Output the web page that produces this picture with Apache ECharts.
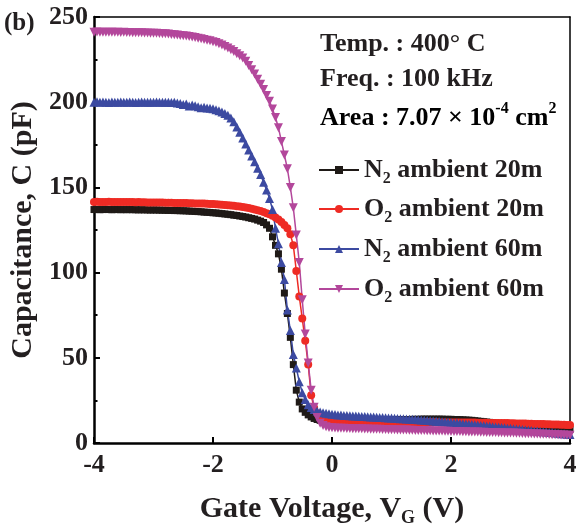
<!DOCTYPE html>
<html>
<head>
<meta charset="utf-8">
<script src="https://cdn.jsdelivr.net/npm/echarts@6/dist/echarts.min.js"></script>
<style>
html, body { margin: 0; padding: 0; background: #fff; }
#chart { width: 576px; height: 527px; }
</style>
</head>
<body>
<div id="chart"></div>
<script>
// gate voltage sweep (V)
var gateV = [
    -4, -3.95, -3.9, -3.85, -3.8, -3.75, -3.7, -3.65, -3.6, -3.55,
    -3.5, -3.45, -3.4, -3.35, -3.3, -3.25, -3.2, -3.15, -3.1, -3.05,
    -3, -2.95, -2.9, -2.85, -2.8, -2.75, -2.7, -2.65, -2.6, -2.55,
    -2.5, -2.45, -2.4, -2.35, -2.3, -2.25, -2.2, -2.15, -2.1, -2.05,
    -2, -1.95, -1.9, -1.85, -1.8, -1.75, -1.7, -1.65, -1.6, -1.55,
    -1.5, -1.45, -1.4, -1.35, -1.3, -1.25, -1.2, -1.15, -1.1, -1.05,
    -1, -0.95, -0.9, -0.85, -0.8, -0.75, -0.7, -0.65, -0.6, -0.55,
    -0.5, -0.45, -0.4, -0.35, -0.3, -0.25, -0.2, -0.15, -0.1, -0.05,
    0, 0.05, 0.1, 0.15, 0.2, 0.25, 0.3, 0.35, 0.4, 0.45,
    0.5, 0.55, 0.6, 0.65, 0.7, 0.75, 0.8, 0.85, 0.9, 0.95,
    1, 1.05, 1.1, 1.15, 1.2, 1.25, 1.3, 1.35, 1.4, 1.45,
    1.5, 1.55, 1.6, 1.65, 1.7, 1.75, 1.8, 1.85, 1.9, 1.95,
    2, 2.05, 2.1, 2.15, 2.2, 2.25, 2.3, 2.35, 2.4, 2.45,
    2.5, 2.55, 2.6, 2.65, 2.7, 2.75, 2.8, 2.85, 2.9, 2.95,
    3, 3.05, 3.1, 3.15, 3.2, 3.25, 3.3, 3.35, 3.4, 3.45,
    3.5, 3.55, 3.6, 3.65, 3.7, 3.75, 3.8, 3.85, 3.9, 3.95,
    4
];

// capacitance (pF)
var n2Amb20 = [
    137, 137.1, 136.9, 137, 137.1, 137, 136.9, 137, 137, 136.9,
    137, 136.9, 137, 136.9, 136.9, 136.8, 136.9, 136.8, 136.8, 136.7,
    136.8, 136.7, 136.7, 136.6, 136.6, 136.5, 136.5, 136.4, 136.4, 136.3,
    136.3, 136.2, 136.1, 136, 135.9, 135.8, 135.7, 135.5, 135.4, 135.3,
    135.1, 135, 134.8, 134.6, 134.4, 134.2, 134, 133.7, 133.5, 133.2,
    132.9, 132.6, 132.2, 131.8, 131.4, 130.8, 130.2, 129.4, 128, 126,
    121, 116, 111, 102, 88, 76, 62, 46, 31, 24,
    20, 18, 16.5, 15.3, 14.4, 13.8, 13.3, 13, 12.8, 12.7,
    12.6, 12.6, 12.7, 12.7, 12.8, 12.8, 12.9, 12.9, 13, 13,
    13.1, 13.1, 13.2, 13.2, 13.3, 13.3, 13.4, 13.4, 13.5, 13.5,
    13.6, 13.6, 13.7, 13.7, 13.8, 13.8, 13.8, 13.9, 13.9, 13.9,
    14, 14, 14, 14, 14, 14, 14, 14, 13.9, 13.9,
    13.9, 13.8, 13.8, 13.7, 13.6, 13.5, 13.4, 13.3, 13.1, 12.9,
    12.7, 12.5, 12.3, 12.1, 11.9, 11.7, 11.5, 11.3, 11.1, 10.9,
    10.7, 10.5, 10.3, 10.1, 9.9, 9.7, 9.6, 9.4, 9.2, 9.1,
    8.9, 8.8, 8.7, 8.6, 8.5, 8.4, 8.3, 8.2, 8.1, 8,
    7.9
];
var o2Amb20 = [
    141.5, 141.6, 141.4, 141.5, 141.5, 141.6, 141.4, 141.5, 141.5, 141.4,
    141.5, 141.4, 141.4, 141.5, 141.3, 141.4, 141.3, 141.3, 141.2, 141.2,
    141.2, 141.1, 141.1, 141.1, 141, 141, 141, 140.9, 140.9, 140.9,
    140.8, 140.8, 140.7, 140.7, 140.6, 140.6, 140.5, 140.5, 140.4, 140.3,
    140.2, 140.1, 140, 139.8, 139.7, 139.5, 139.4, 139.2, 139, 138.8,
    138.5, 138.2, 137.9, 137.5, 137.1, 136.6, 136.1, 135.5, 134.9, 134.2,
    133.4, 132.4, 131.2, 129.7, 128, 126, 122.5, 116, 101, 86,
    73, 60, 46, 28, 20.5, 17.5, 15.6, 14.6, 14, 13.6,
    13.3, 13.1, 13, 12.9, 12.8, 12.8, 12.7, 12.7, 12.6, 12.6,
    12.6, 12.5, 12.5, 12.5, 12.5, 12.4, 12.4, 12.4, 12.4, 12.4,
    12.3, 12.3, 12.3, 12.3, 12.3, 12.3, 12.3, 12.2, 12.2, 12.2,
    12.2, 12.2, 12.2, 12.2, 12.2, 12.2, 12.1, 12.1, 12.1, 12.1,
    12.1, 12.1, 12.1, 12, 12, 12, 12, 12, 12, 11.9,
    11.9, 11.9, 11.9, 11.8, 11.8, 11.8, 11.8, 11.7, 11.7, 11.7,
    11.6, 11.6, 11.5, 11.5, 11.4, 11.4, 11.3, 11.3, 11.2, 11.2,
    11.1, 11.1, 11, 11, 10.9, 10.9, 10.8, 10.7, 10.7, 10.6,
    10.5
];
var n2Amb60 = [
    200, 200.2, 199.9, 200.1, 200, 199.8, 200.1, 200, 199.9, 200.1,
    200, 199.9, 200.1, 200, 199.8, 200, 200.1, 199.9, 200, 199.9,
    200, 200.1, 199.9, 200, 199.9, 200, 199.8, 199.9, 199.6, 199.2,
    198.6, 198.9, 197.8, 198.4, 197.9, 197.3, 196.8, 197, 196.6, 196.4,
    196.1, 195.6, 195, 194.3, 193.4, 192.3, 190.8, 188.5, 185.5, 182.3,
    179, 175.5, 172, 168.5, 165, 161.3, 157.5, 153, 148.5, 143.5,
    137, 126, 117, 106, 96, 78, 66, 52, 44, 36,
    29.5, 25.5, 22.5, 20.8, 19.6, 18.8, 18.2, 17.7, 17.4, 17.1,
    16.9, 16.7, 16.5, 16.4, 16.2, 16.1, 16, 15.9, 15.8, 15.7,
    15.6, 15.5, 15.4, 15.3, 15.2, 15.1, 15, 14.9, 14.8, 14.7,
    14.6, 14.5, 14.4, 14.3, 14.2, 14.1, 14, 13.9, 13.8, 13.7,
    13.5, 13.4, 13.2, 13.1, 12.9, 12.8, 12.6, 12.5, 12.3, 12.2,
    12, 11.8, 11.7, 11.5, 11.3, 11.2, 11, 10.8, 10.7, 10.5,
    10.3, 10.1, 10, 9.8, 9.6, 9.4, 9.3, 9.1, 8.9, 8.7,
    8.6, 8.4, 8.2, 8, 7.9, 7.7, 7.5, 7.3, 7.1, 7,
    6.8, 6.6, 6.4, 6.2, 6.1, 5.9, 5.7, 5.5, 5.4, 5.2,
    5
];
var o2Amb60 = [
    241, 241.2, 241, 241.1, 241, 241, 241.1, 241, 241, 240.9,
    241, 240.9, 240.9, 240.8, 240.8, 240.7, 240.7, 240.6, 240.6, 240.5,
    240.5, 240.4, 240.3, 240.2, 240.1, 240, 239.8, 239.6, 239.4, 239.2,
    239, 238.8, 238.5, 238.2, 237.9, 237.6, 237.2, 236.8, 236.4, 236,
    235.5, 235, 234.3, 233.5, 232.7, 231.8, 230.8, 229.7, 228.5, 227.3,
    226, 224, 221.5, 219, 216.5, 213.5, 210.5, 207.5, 204, 200.5,
    196, 191, 185, 177, 169, 161, 150, 138, 122, 106,
    84, 64, 47, 31, 21, 15, 11.6, 10.2, 9.5, 9.1,
    8.9, 8.8, 8.7, 8.6, 8.6, 8.5, 8.5, 8.4, 8.4, 8.3,
    8.3, 8.2, 8.2, 8.1, 8.1, 8, 8, 7.9, 7.9, 7.8,
    7.8, 7.8, 7.7, 7.7, 7.6, 7.6, 7.5, 7.5, 7.4, 7.4,
    7.3, 7.3, 7.2, 7.2, 7.1, 7.1, 7, 7, 6.9, 6.9,
    6.8, 6.8, 6.7, 6.7, 6.6, 6.6, 6.5, 6.5, 6.4, 6.4,
    6.3, 6.3, 6.2, 6.2, 6.1, 6.1, 6, 6, 5.9, 5.9,
    5.8, 5.8, 5.7, 5.7, 5.6, 5.5, 5.5, 5.4, 5.3, 5.3,
    5.2, 5.1, 5.1, 5, 4.9, 4.9, 4.8, 4.7, 4.7, 4.6,
    4.5
];

var seriesNames = ['N2 ambient 20m', 'O2 ambient 20m', 'N2 ambient 60m', 'O2 ambient 60m'];
var legendRows = [157, 196, 236, 276];

var FONT = '"Liberation Serif", "Times New Roman", serif';
var colors = ['#1f1a17', '#ee2b24', '#3c4aa1', '#b3479b'];
var symbols = ['rect', 'circle', 'triangle', 'path://M0,0 L10,0 L5,9 Z'];
var symbolSizes = [7, 8, 9, 9];
var allData = [n2Amb20, o2Amb20, n2Amb60, o2Amb60];

function pairs(ys) {
    return gateV.map(function(v, i) {
        return [v, ys[i]];
    });
}

var richText = {
    b: { fontFamily: FONT, fontWeight: 'bold', fontSize: 26, color: '#231f20', lineHeight: 34 },
    s: { fontFamily: FONT, fontWeight: 'bold', fontSize: 16, color: '#231f20', lineHeight: 34, verticalAlign: 'bottom' },
    u: { fontFamily: FONT, fontWeight: 'bold', fontSize: 16, color: '#231f20', lineHeight: 34, verticalAlign: 'top' }
};

var series = seriesNames.map(function(name, i) {
    return {
        name: name,
        type: 'line',
        data: pairs(allData[i]),
        symbol: symbols[i],
        symbolSize: symbolSizes[i],
        lineStyle: { color: colors[i], width: 1.5 },
        itemStyle: { color: colors[i] },
        emphasis: { disabled: true }
    };
});

var legends = seriesNames.map(function(name, i) {
    return {
        data: [name],
        orient: 'vertical',
        left: 318,
        top: legendRows[i],
        padding: 0,
        itemWidth: 40,
        itemHeight: 10,
        selectedMode: false,
        formatter: function(n) {
            return '{b|' + n.charAt(0) + '}{s|2}{b|' + n.substring(2) + '}';
        },
        textStyle: { rich: richText }
    };
});

var chart = echarts.init(document.getElementById('chart'));
chart.setOption({
    animation: false,
    backgroundColor: '#fff',
    grid: { left: 94, right: 6, top: 17, bottom: 84, outerBoundsMode: 'none', containLabel: false },
    xAxis: [{
        type: 'value',
        min: -4,
        max: 4,
        interval: 2,
        position: 'bottom',
        axisLine: { onZero: false, lineStyle: { color: '#000', width: 2.5 } },
        axisTick: { inside: true, length: 6, lineStyle: { color: '#000', width: 2 } },
        axisLabel: { margin: 9, fontSize: 26, fontWeight: 'bold', fontFamily: FONT, color: '#231f20' },
        splitLine: { show: false },
        name: '{a|Gate Voltage, V}{g|G}{a| (V)}',
        nameLocation: 'middle',
        nameGap: 48,
        nameTextStyle: {
            rich: {
                a: { fontFamily: FONT, fontWeight: 'bold', fontSize: 30, color: '#231f20', lineHeight: 36 },
                g: { fontFamily: FONT, fontWeight: 'bold', fontSize: 18, color: '#231f20', lineHeight: 36, verticalAlign: 'bottom' }
            }
        }
    }, {
        type: 'value',
        min: -4,
        max: 4,
        position: 'top',
        axisLine: { onZero: false, lineStyle: { color: '#000', width: 1.5 } },
        axisTick: { show: false },
        axisLabel: { show: false },
        splitLine: { show: false }
    }],
    yAxis: [{
        type: 'value',
        min: 0,
        max: 250,
        interval: 50,
        position: 'left',
        axisLine: { onZero: false, lineStyle: { color: '#000', width: 2.5 } },
        axisTick: { inside: true, length: 6, lineStyle: { color: '#000', width: 2 } },
        minorTick: { show: true, splitNumber: 2, length: 3.5, lineStyle: { color: '#000', width: 2 } },
        axisLabel: { margin: 6, fontSize: 26, fontWeight: 'bold', fontFamily: FONT, color: '#231f20' },
        splitLine: { show: false },
        name: 'Capacitance, C (pF)',
        nameLocation: 'middle',
        nameGap: 41,
        nameTextStyle: { fontFamily: FONT, fontWeight: 'bold', fontSize: 30, color: '#231f20' }
    }, {
        type: 'value',
        min: 0,
        max: 250,
        position: 'right',
        axisLine: { onZero: false, lineStyle: { color: '#000', width: 1.5 } },
        axisTick: { show: false },
        axisLabel: { show: false },
        splitLine: { show: false }
    }],
    legend: legends,
    graphic: [
        { type: 'text', left: 4, top: 11, style: { text: '(b)', font: 'bold 25px ' + FONT, fill: '#231f20' } },
        { type: 'text', left: 320, top: 31, style: { text: 'Temp. : 400° C', font: 'bold 26px ' + FONT, fill: '#231f20' } },
        { type: 'text', left: 320, top: 66, style: { text: 'Freq. : 100 kHz', font: 'bold 26px ' + FONT, fill: '#231f20' } },
        { type: 'text', left: 320, top: 101, style: { text: '{b|Area : 7.07 × 10}{u|-4}{b| cm}{u|2}', rich: richText } }
    ],
    series: series
});
</script>
</body>
</html>
